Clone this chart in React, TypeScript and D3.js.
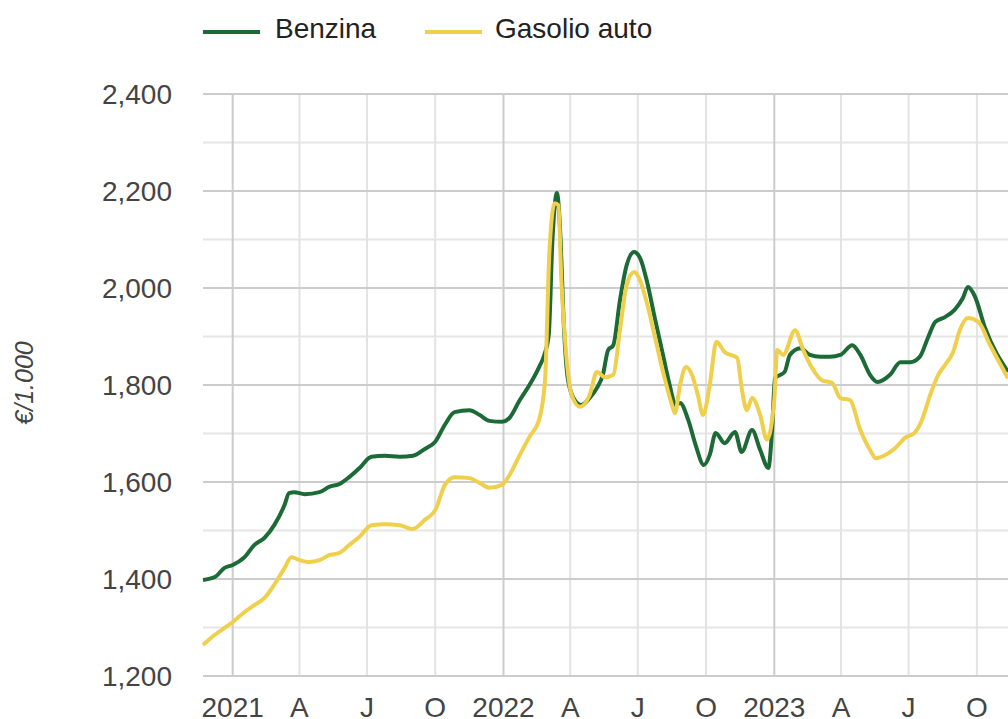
import * as d3 from "d3";
import React from "react";

// weekly-ish readings, €/1.000 litri
const benzina: [string, number][] = [
  ["2020-11-22", 1398], ["2020-12-08", 1404], ["2020-12-21", 1423], ["2021-01-01", 1429],
  ["2021-01-17", 1445], ["2021-01-30", 1470], ["2021-02-13", 1485], ["2021-02-26", 1511],
  ["2021-03-12", 1553], ["2021-03-18", 1577], ["2021-03-25", 1579], ["2021-04-08", 1575],
  ["2021-04-28", 1579], ["2021-05-11", 1590], ["2021-05-25", 1596], ["2021-06-07", 1610],
  ["2021-06-21", 1629], ["2021-07-07", 1652], ["2021-07-25", 1654], ["2021-08-14", 1652],
  ["2021-09-01", 1654], ["2021-09-17", 1668], ["2021-10-01", 1683], ["2021-10-14", 1718],
  ["2021-10-27", 1744], ["2021-11-16", 1748], ["2021-11-30", 1738], ["2021-12-13", 1726],
  ["2021-12-30", 1724], ["2022-01-09", 1732], ["2022-01-23", 1769], ["2022-02-05", 1800],
  ["2022-02-18", 1837], ["2022-02-25", 1862], ["2022-03-03", 1903], ["2022-03-08", 2099],
  ["2022-03-14", 2196], ["2022-03-19", 2099], ["2022-03-23", 1934], ["2022-03-29", 1810],
  ["2022-04-07", 1769], ["2022-04-16", 1759], ["2022-04-27", 1773], ["2022-05-07", 1794],
  ["2022-05-15", 1821], ["2022-05-22", 1872], ["2022-05-29", 1882], ["2022-06-07", 1975],
  ["2022-06-16", 2047], ["2022-06-26", 2074], ["2022-07-04", 2062], ["2022-07-13", 2016],
  ["2022-07-24", 1938], ["2022-08-04", 1862], ["2022-08-13", 1800], ["2022-08-21", 1759],
  ["2022-08-27", 1763], ["2022-09-07", 1728], ["2022-09-17", 1676], ["2022-09-28", 1635],
  ["2022-10-06", 1656], ["2022-10-14", 1701], ["2022-10-26", 1680], ["2022-11-09", 1703],
  ["2022-11-18", 1662], ["2022-12-02", 1707], ["2022-12-13", 1666], ["2022-12-24", 1629],
  ["2022-12-29", 1707], ["2023-01-02", 1814], ["2023-01-15", 1827], ["2023-01-22", 1862],
  ["2023-02-05", 1876], ["2023-02-18", 1862], ["2023-03-04", 1858], ["2023-03-17", 1858],
  ["2023-03-31", 1862], ["2023-04-16", 1882], ["2023-04-27", 1862], ["2023-05-10", 1821],
  ["2023-05-20", 1806], ["2023-06-06", 1821], ["2023-06-20", 1847], ["2023-07-03", 1847],
  ["2023-07-16", 1858], ["2023-07-27", 1897], ["2023-08-06", 1930], ["2023-08-19", 1940],
  ["2023-09-01", 1955], ["2023-09-12", 1979], ["2023-09-19", 2002], ["2023-09-28", 1984],
  ["2023-10-12", 1918], ["2023-11-12", 1827],
];

const gasolio: [string, number][] = [
  ["2020-11-22", 1264], ["2020-12-08", 1285], ["2020-12-21", 1299], ["2021-01-01", 1311],
  ["2021-01-17", 1332], ["2021-01-30", 1346], ["2021-02-13", 1361], ["2021-02-26", 1388],
  ["2021-03-12", 1423], ["2021-03-21", 1445], ["2021-04-01", 1439], ["2021-04-14", 1435],
  ["2021-04-28", 1439], ["2021-05-11", 1449], ["2021-05-25", 1454], ["2021-06-07", 1470],
  ["2021-06-21", 1487], ["2021-07-07", 1511], ["2021-07-25", 1513], ["2021-08-14", 1511],
  ["2021-09-01", 1503], ["2021-09-17", 1522], ["2021-10-01", 1542], ["2021-10-14", 1594],
  ["2021-10-27", 1610], ["2021-11-16", 1608], ["2021-11-30", 1598], ["2021-12-13", 1588],
  ["2021-12-30", 1594], ["2022-01-09", 1614], ["2022-01-23", 1656], ["2022-02-05", 1693],
  ["2022-02-18", 1728], ["2022-02-26", 1810], ["2022-03-04", 2078], ["2022-03-11", 2175],
  ["2022-03-16", 2171], ["2022-03-20", 2016], ["2022-03-26", 1872], ["2022-04-03", 1779],
  ["2022-04-14", 1755], ["2022-04-27", 1779], ["2022-05-07", 1827], ["2022-05-18", 1816],
  ["2022-05-29", 1821], ["2022-06-07", 1913], ["2022-06-16", 2006], ["2022-06-26", 2033],
  ["2022-07-04", 2016], ["2022-07-14", 1965], ["2022-07-25", 1893], ["2022-08-05", 1821],
  ["2022-08-16", 1759], ["2022-08-20", 1742], ["2022-08-27", 1800], ["2022-09-04", 1837],
  ["2022-09-12", 1821], ["2022-09-20", 1779], ["2022-09-27", 1738], ["2022-10-06", 1800],
  ["2022-10-15", 1889], ["2022-10-26", 1868], ["2022-11-12", 1856], ["2022-11-18", 1794],
  ["2022-11-25", 1748], ["2022-12-02", 1773], ["2022-12-13", 1738], ["2022-12-22", 1687],
  ["2023-01-01", 1769], ["2023-01-05", 1872], ["2023-01-13", 1862], ["2023-01-29", 1913],
  ["2023-02-09", 1872], ["2023-02-21", 1835], ["2023-03-06", 1810], ["2023-03-20", 1804],
  ["2023-03-31", 1773], ["2023-04-13", 1769], ["2023-04-27", 1707], ["2023-05-10", 1666],
  ["2023-05-18", 1649], ["2023-05-30", 1655], ["2023-06-13", 1670], ["2023-06-26", 1691],
  ["2023-07-10", 1703], ["2023-07-19", 1728], ["2023-07-30", 1779], ["2023-08-10", 1821],
  ["2023-08-19", 1841], ["2023-08-30", 1868], ["2023-09-08", 1913], ["2023-09-19", 1938],
  ["2023-10-03", 1930], ["2023-10-19", 1882], ["2023-11-12", 1814],
];

const seriesNames = ["Benzina", "Gasolio auto"];
const seriesColors = ["#1c6b37", "#f0cf4c"];
const yTicks = [1200, 1400, 1600, 1800, 2000, 2200, 2400];
const yMinor = [1300, 1500, 1700, 1900, 2100, 2300];
const xTickLabels = ["2021", "A", "J", "O", "2022", "A", "J", "O", "2023", "A", "J", "O"];
const yTitle = "€/1.000";

const W = 1008;
const H = 719;
const margin = { top: 94, right: 0, bottom: 43, left: 203 };
const FONT = "'Liberation Sans', Arial, sans-serif";

export default function App() {
  const parse = d3.timeParse("%Y-%m-%d");
  const x = d3
    .scaleTime()
    .domain([parse("2020-11-22")!, parse("2023-11-12")!])
    .range([margin.left, W - margin.right]);
  const y = d3
    .scaleLinear()
    .domain([1200, 2400])
    .range([H - margin.bottom, margin.top]);

  const quarters = d3.timeMonth.every(3)!.range(parse("2021-01-01")!, parse("2023-11-01")!);

  const line = d3
    .line<[string, number]>()
    .x((d) => x(parse(d[0])!))
    .y((d) => y(d[1]))
    .curve(d3.curveMonotoneX);

  const top = y(2400);
  const bottom = y(1200);

  return (
    <svg
      width={W}
      height={H}
      style={{ position: "absolute", left: 0, top: 0, background: "#fff" }}
      fontFamily={FONT}
    >
      {/* minor horizontal grid */}
      {yMinor.map((v) => (
        <line key={"m" + v} x1={margin.left} x2={W} y1={y(v)} y2={y(v)} stroke="#e6e6e6" strokeWidth={2} />
      ))}
      {/* vertical grid */}
      {quarters.map((d, i) => (
        <line
          key={"q" + i}
          x1={x(d)}
          x2={x(d)}
          y1={top}
          y2={bottom}
          stroke={d.getMonth() === 0 ? "#cccccc" : "#e3e3e3"}
          strokeWidth={2}
        />
      ))}
      {/* major horizontal grid */}
      {yTicks.map((v) => (
        <line key={"g" + v} x1={margin.left} x2={W} y1={y(v)} y2={y(v)} stroke="#cccccc" strokeWidth={2} />
      ))}

      {/* y labels */}
      {yTicks.map((v) => (
        <text key={"t" + v} x={172} y={y(v) + 10} textAnchor="end" fontSize={28} fill="#444">
          {d3.format(",")(v)}
        </text>
      ))}
      {/* x labels */}
      {quarters.map((d, i) => (
        <text key={"xl" + i} x={x(d)} y={717} textAnchor="middle" fontSize={28} fill="#444">
          {xTickLabels[i]}
        </text>
      ))}

      <text
        transform={`translate(33,383) rotate(-90)`}
        textAnchor="middle"
        fontSize={25}
        fontStyle="italic"
        fill="#444"
      >
        {yTitle}
      </text>

      {/* series */}
      <path d={line(benzina) ?? ""} fill="none" stroke={seriesColors[0]} strokeWidth={4} strokeLinejoin="round" />
      <path d={line(gasolio) ?? ""} fill="none" stroke={seriesColors[1]} strokeWidth={4} strokeLinejoin="round" />

      {/* legend */}
      <line x1={203} x2={260} y1={32} y2={32} stroke={seriesColors[0]} strokeWidth={4} />
      <text x={275} y={38} fontSize={28} fill="#222">{seriesNames[0]}</text>
      <line x1={425} x2={482} y1={32} y2={32} stroke={seriesColors[1]} strokeWidth={4} />
      <text x={495} y={38} fontSize={28} fill="#222">{seriesNames[1]}</text>
    </svg>
  );
}
